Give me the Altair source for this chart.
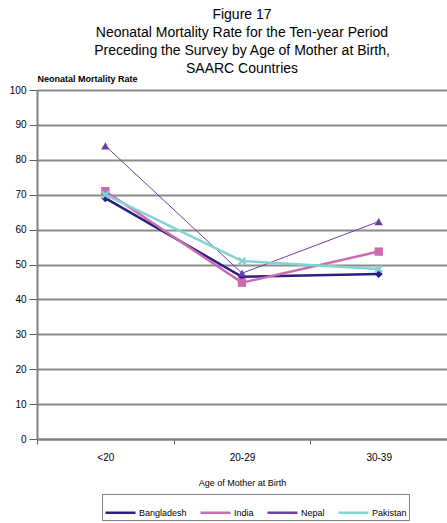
import altair as alt
import pandas as pd

# Neonatal mortality rate by age of mother at birth
ages = ["<20", "20-29", "30-39"]
countries = ["Bangladesh", "India", "Nepal", "Pakistan"]
bangladesh = [69.0, 46.5, 47.3]
india = [71.0, 44.8, 53.7]
nepal = [84.0, 47.5, 62.3]
pakistan = [70.0, 51.0, 48.7]

colors = ["#2a1d84", "#cc6cb0", "#6e3fa6", "#80d4d4"]
x_shape = "M-1,-0.6L-0.6,-1L0,-0.4L0.6,-1L1,-0.6L0.4,0L1,0.6L0.6,1L0,0.4L-0.6,1L-1,0.6L-0.4,0Z"
shapes = ["diamond", "square", "triangle-up", x_shape]

rows = []
for name, vals in zip(countries, [bangladesh, india, nepal, pakistan]):
    for i, (a, v) in enumerate(zip(ages, vals)):
        rows.append({"age": a, "idx": i, "country": name, "rate": v})
df = pd.DataFrame(rows)

FONT = "Liberation Sans"

x = alt.X("age:N", sort=ages, title="Age of Mother at Birth",
          scale=alt.Scale(paddingInner=0, paddingOuter=0),
          axis=alt.Axis(labelAngle=0, tickBand="extent", tickSize=5, labelPadding=8,
                        titlePadding=16, grid=False))
y = alt.Y("rate:Q", title="Neonatal Mortality Rate",
          scale=alt.Scale(domain=[0, 100], nice=False),
          axis=alt.Axis(values=list(range(0, 101, 10)), tickSize=8, labelPadding=3,
                        titleAngle=0, titleX=0, titleY=-12, titleAlign="left",
                        titleBaseline="middle",
                        titleFontWeight="bold", titleFontSize=9, domainWidth=2))
color_scale = alt.Scale(domain=countries, range=colors)
color = alt.Color("country:N", sort=countries, title=None, scale=color_scale,
                  legend=alt.Legend(orient="none", legendX=65, legendY=404,
                                    direction="horizontal", columns=4,
                                    gridAlign="each",
                                    strokeColor="#808080", padding=2,
                                    labelFontSize=9, symbolType="stroke",
                                    symbolSize=900, symbolStrokeWidth=2.5,
                                    labelOffset=2, columnPadding=8))
fill = alt.Fill("country:N", sort=countries, scale=color_scale, legend=None)
# one marker shape per series
shape = alt.ShapeValue(
    condition=[{"test": f"datum.country === '{c}'", "value": s}
               for c, s in zip(countries[:-1], shapes[:-1])],
    value=shapes[-1])
# Nepal is drawn with a thin line, the others thicker
sw = alt.StrokeWidthValue(
    condition={"test": "datum.country === 'Nepal'", "value": 1.0}, value=2.5)

base = alt.Chart(df)
lines = base.mark_line().encode(x=x, y=y, color=color, strokeWidth=sw,
                                order=alt.Order("idx:Q"))
points = base.mark_point(filled=True, size=70, opacity=1, strokeWidth=0).encode(
    x=x, y=y, fill=fill, shape=shape)

chart = alt.layer(lines, points).properties(
    width=410, height=349,
    title=alt.TitleParams(
        ["Figure 17",
         "Neonatal Mortality Rate for the Ten-year Period",
         "Preceding the Survey by Age of Mother at Birth,",
         "SAARC Countries"],
        anchor="middle", fontSize=14, fontWeight="normal", font=FONT,
        lineHeight=18, offset=-2),
    autosize=alt.AutoSizeParams(type="none"),
    padding={"left": 37, "top": 90, "right": 0, "bottom": 84},
).configure(font=FONT).configure_view(stroke=None).configure_axis(
    labelFont=FONT, titleFont=FONT, labelFontSize=10, titleFontSize=9,
    titleFontWeight="normal", labelColor="#000", titleColor="#000",
    domainColor="#808080", tickColor="#606060", gridColor="#8a8a8a",
    gridWidth=2, domainWidth=2
)

chart.save("out.html", embed_options={"renderer": "svg", "actions": False})
